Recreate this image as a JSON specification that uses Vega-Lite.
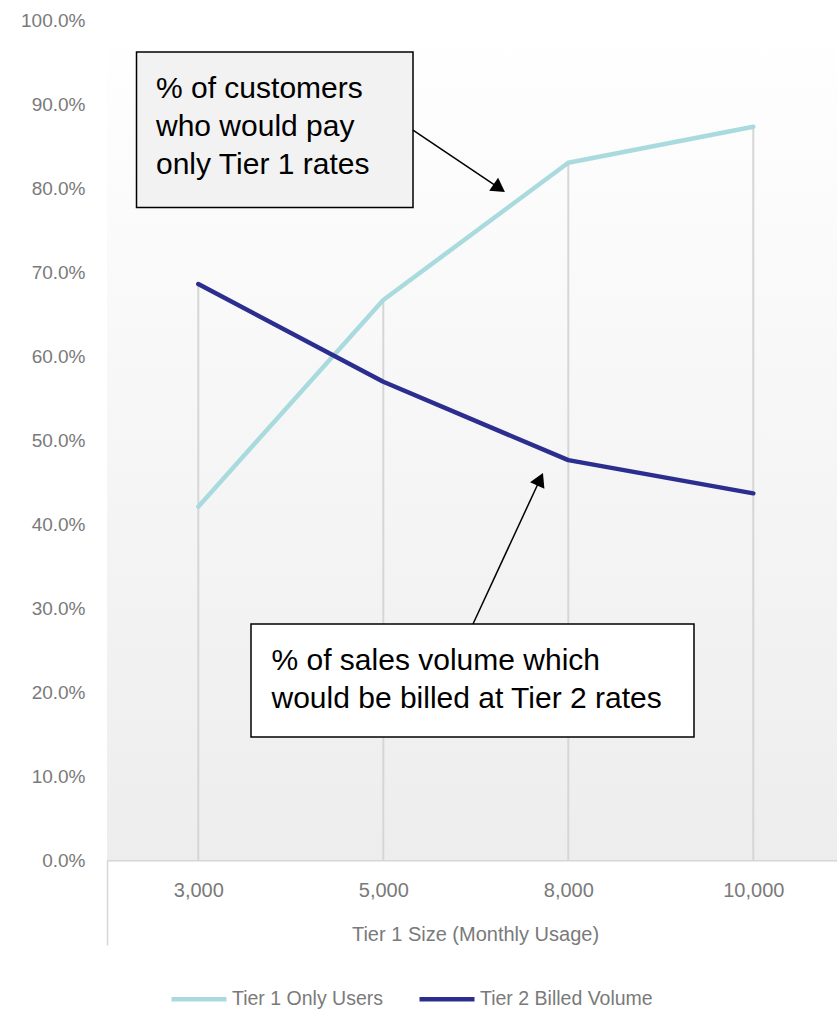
{
  "$schema": "https://vega.github.io/schema/vega-lite/v6.json",
  "autosize": {"type": "none"},
  "width": 730,
  "height": 840,
  "padding": {"left": 107, "top": 20, "right": 0, "bottom": 150},
  "background": "#ffffff",
  "config": {
    "view": {"stroke": null},
    "font": "Liberation Sans",
    "axis": {"labelFont": "Liberation Sans", "titleFont": "Liberation Sans"},
    "legend": {"labelFont": "Liberation Sans"}
  },
  "datasets": {
    "series": [
      {"size": "3,000", "idx": 0, "series": "Tier 1 Only Users", "value": 0.4206},
      {"size": "5,000", "idx": 1, "series": "Tier 1 Only Users", "value": 0.6667},
      {"size": "8,000", "idx": 2, "series": "Tier 1 Only Users", "value": 0.830},
      {"size": "10,000", "idx": 3, "series": "Tier 1 Only Users", "value": 0.873},
      {"size": "3,000", "idx": 0, "series": "Tier 2 Billed Volume", "value": 0.6857},
      {"size": "5,000", "idx": 1, "series": "Tier 2 Billed Volume", "value": 0.5694},
      {"size": "8,000", "idx": 2, "series": "Tier 2 Billed Volume", "value": 0.476},
      {"size": "10,000", "idx": 3, "series": "Tier 2 Billed Volume", "value": 0.4365}
    ],
    "boxes": [
      {"id": "customers", "x": -0.334, "x2": 1.1606, "y": 0.9619, "y2": 0.7768, "tx": -0.2286, "ty": 0.9075, "label": "% of customers\nwho would pay\nonly Tier 1 rates"},
      {"id": "volume", "x": 0.2849, "x2": 2.6795, "y": 0.2810, "y2": 0.1464, "tx": 0.3957, "ty": 0.2262, "label": "% of sales volume which\nwould be billed at Tier 2 rates"}
    ],
    "arrows": [
      {"id": "customers", "x": 1.1606, "y": 0.8690, "x2": 1.6270, "y2": 0.7999},
      {"id": "volume", "x": 1.4849, "y": 0.2810, "x2": 1.8476, "y2": 0.4533}
    ]
  },
  "layer": [
    {
      "data": {"values": [{"area": "plot"}]},
      "mark": {
        "type": "rect",
        "color": {"gradient": "linear", "x1": 0, "y1": 0, "x2": 0, "y2": 1,
          "stops": [{"offset": 0, "color": "#ffffff"}, {"offset": 1, "color": "#ededed"}]}
      },
      "encoding": {
        "x": {"datum": -0.4935, "type": "quantitative"},
        "x2": {"datum": 3.4525},
        "y": {"datum": 1, "type": "quantitative"},
        "y2": {"datum": 0}
      }
    },
    {
      "data": {"name": "series"},
      "mark": {"type": "rule", "color": "#d6d6d6", "strokeWidth": 2},
      "encoding": {
        "x": {"field": "idx", "type": "quantitative"},
        "y": {"aggregate": "max", "field": "value", "type": "quantitative"},
        "y2": {"datum": 0}
      }
    },
    {
      "data": {"name": "series"},
      "mark": {"type": "line", "strokeWidth": 4.5, "strokeCap": "round", "strokeJoin": "round"},
      "encoding": {
        "x": {
          "field": "idx", "type": "quantitative",
          "scale": {"domain": [-0.4935, 3.4525], "nice": false, "zero": false},
          "axis": {
            "values": [-0.4935, 0, 1, 2, 3],
            "labelExpr": "datum.value < 0 ? '' : ['3,000','5,000','8,000','10,000'][datum.value]",
            "ticks": true,
            "tickSize": 85,
            "tickWidth": 1.5,
            "tickColor": {"condition": {"test": "datum.value < 0", "value": "#d6d6d6"}, "value": "transparent"},
            "labelPadding": -65,
            "labelFontSize": 20,
            "labelColor": "#7a7a7a",
            "domainColor": "#d6d6d6",
            "domainWidth": 2,
            "grid": false,
            "title": "Tier 1 Size (Monthly Usage)",
            "titleFontSize": 20,
            "titleFontWeight": "normal",
            "titleColor": "#7a7a7a",
            "titleX": 368,
            "titleY": 74,
            "titleBaseline": "middle"
          }
        },
        "y": {
          "field": "value", "type": "quantitative",
          "scale": {"domain": [0, 1], "nice": false},
          "axis": {
            "values": [0, 0.1, 0.2, 0.3, 0.4, 0.5, 0.6, 0.7, 0.8, 0.9, 1],
            "format": ".1%",
            "domain": false,
            "ticks": false,
            "grid": false,
            "labelPadding": 22,
            "labelFontSize": 19,
            "labelColor": "#7a7a7a",
            "title": null
          }
        },
        "color": {
          "field": "series", "type": "nominal",
          "scale": {"domain": ["Tier 1 Only Users", "Tier 2 Billed Volume"], "range": ["#a9dbde", "#2b2e8f"]},
          "legend": {
            "title": null,
            "orient": "none",
            "direction": "horizontal",
            "legendX": 62,
            "legendY": 949,
            "symbolType": "stroke",
            "symbolSize": 3025,
            "symbolStrokeWidth": 4.5,
            "labelOffset": 3,
            "columnPadding": 27,
            "labelFontSize": 19.5,
            "labelLimit": 400,
            "labelColor": "#7a7a7a",
            "padding": 0
          }
        }
      }
    },
    {
      "data": {"name": "boxes"},
      "mark": {"type": "rect", "stroke": "#000000", "strokeWidth": 1.5},
      "encoding": {
        "x": {"field": "x", "type": "quantitative"},
        "x2": {"field": "x2"},
        "y": {"field": "y", "type": "quantitative"},
        "y2": {"field": "y2"},
        "fill": {
          "field": "id", "type": "nominal",
          "scale": {"domain": ["customers", "volume"], "range": ["#f2f2f2", "#ffffff"]},
          "legend": null
        }
      }
    },
    {
      "data": {"name": "boxes"},
      "mark": {"type": "text", "align": "left", "baseline": "alphabetic", "lineBreak": "\n", "lineHeight": 38.3, "fontSize": 30, "font": "Liberation Sans", "color": "#000000"},
      "encoding": {
        "x": {"field": "tx", "type": "quantitative"},
        "y": {"field": "ty", "type": "quantitative"},
        "text": {"field": "label"}
      }
    },
    {
      "data": {"name": "arrows"},
      "mark": {"type": "rule", "color": "#000000", "strokeWidth": 1.5},
      "encoding": {
        "x": {"field": "x", "type": "quantitative"},
        "y": {"field": "y", "type": "quantitative"},
        "x2": {"field": "x2"},
        "y2": {"field": "y2"}
      }
    },
    {
      "data": {"name": "arrows"},
      "transform": [{"filter": "datum.id == 'customers'"}],
      "mark": {"type": "point", "shape": "triangle-up", "filled": true, "color": "#000000", "size": 250, "angle": 124.4, "opacity": 1},
      "encoding": {
        "x": {"field": "x2", "type": "quantitative"},
        "y": {"field": "y2", "type": "quantitative"}
      }
    },
    {
      "data": {"name": "arrows"},
      "transform": [{"filter": "datum.id == 'volume'"}],
      "mark": {"type": "point", "shape": "triangle-up", "filled": true, "color": "#000000", "size": 250, "angle": 24.8, "opacity": 1},
      "encoding": {
        "x": {"field": "x2", "type": "quantitative"},
        "y": {"field": "y2", "type": "quantitative"}
      }
    }
  ]
}
